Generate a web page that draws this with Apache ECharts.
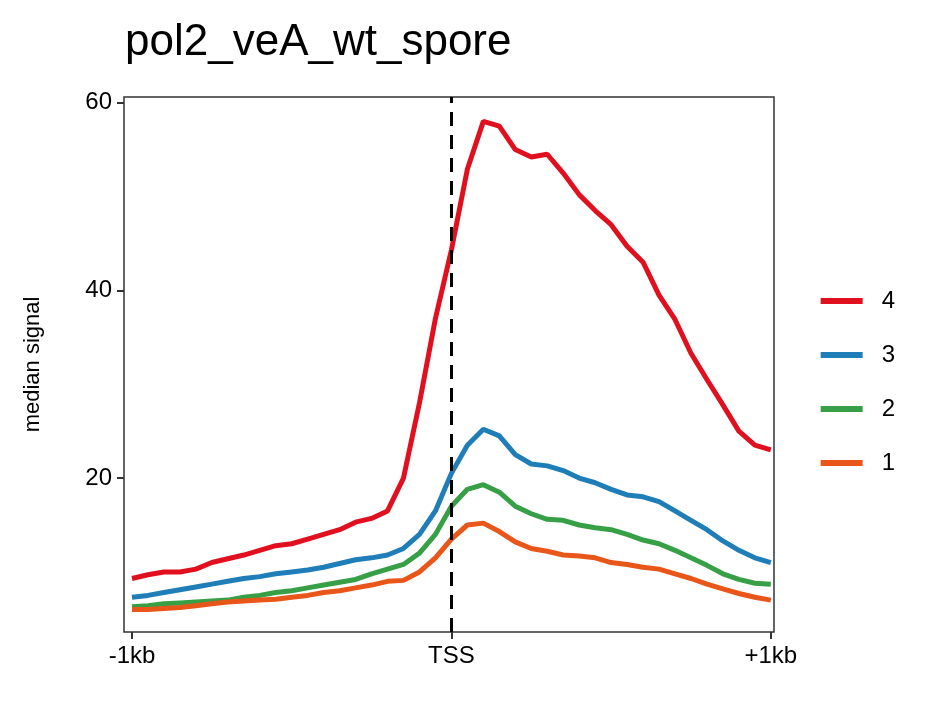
<!DOCTYPE html>
<html>
<head>
<meta charset="utf-8">
<script src="https://cdn.jsdelivr.net/npm/echarts@6/dist/echarts.min.js"></script>
<style>html,body{margin:0;padding:0;background:#fff}#main{width:944px;height:708px}</style>
</head>
<body>
<div id="main"></div>
<script>
// 位置 (bp relative to TSS)
var positions = [-1000,-950,-900,-850,-800,-750,-700,-650,-600,-550,-500,-450,-400,-350,-300,-250,-200,-150,-100,-50,
  0,50,100,150,200,250,300,350,400,450,500,550,600,650,700,750,800,850,900,950,1000];
var cluster4 = [9.3,9.7,10.0,10.0,10.3,11.0,11.4,11.8,12.3,12.8,13.0,13.5,14.0,14.5,15.3,15.7,16.5,20,28,37,
  44.3,52.9,58,57.5,55,54.2,54.5,52.5,50.2,48.5,47,44.7,43,39.5,36.9,33.3,30.5,27.8,25,23.5,23];
var cluster3 = [7.3,7.5,7.8,8.1,8.4,8.7,9.0,9.3,9.5,9.8,10.0,10.2,10.5,10.9,11.3,11.5,11.8,12.5,14,16.5,
  20.5,23.5,25.2,24.5,22.5,21.5,21.3,20.8,20,19.5,18.8,18.2,18,17.5,16.5,15.5,14.5,13.3,12.3,11.5,11];
var cluster2 = [6.3,6.4,6.6,6.7,6.8,6.9,7.0,7.3,7.5,7.8,8.0,8.3,8.6,8.9,9.2,9.8,10.3,10.8,12,14,
  17,18.8,19.3,18.5,17,16.2,15.6,15.5,15,14.7,14.5,14,13.4,13,12.3,11.5,10.7,9.8,9.2,8.8,8.7];
var cluster1 = [6.0,6.0,6.1,6.2,6.4,6.6,6.8,6.9,7.0,7.1,7.3,7.5,7.8,8.0,8.3,8.6,9.0,9.1,10,11.5,
  13.5,15,15.2,14.3,13.2,12.5,12.2,11.8,11.7,11.5,11,10.8,10.5,10.3,9.8,9.3,8.7,8.2,7.7,7.3,7.0];
var xTicks = [-1000, 0, 1000];
var xTickLabels = {'-1000': '-1kb', '0': 'TSS', '1000': '+1kb'};
var yTicks = [20, 40, 60];

function pairs(arr) {
  return positions.map(function (p, i) { return [p, arr[i]]; });
}

var myChart = echarts.init(document.getElementById('main'));
var font = 'Liberation Sans, Arial, sans-serif';

var option = {
  backgroundColor: '#fff',
  animation: false,
  title: {
    text: 'pol2_veA_wt_spore',
    left: 120, top: 16,
    textStyle: { fontFamily: font, fontSize: 44, fontWeight: 'normal', color: '#000' }
  },
  legend: {
    orient: 'vertical',
    right: 44, top: 284,
    itemGap: 30,
    itemWidth: 42, itemHeight: 6,
    icon: 'rect',
    textStyle: { fontFamily: font, fontSize: 24, color: '#000', padding: [0, 0, 0, 14] },
    data: ['4', '3', '2', '1']
  },
  grid: {
    left: 124, right: 170, top: 97, bottom: 76,
    show: true, borderColor: '#333', borderWidth: 1.5
  },
  xAxis: {
    type: 'value', min: -1025, max: 1010,
    axisLine: { show: false, onZero: false },
    splitLine: { show: false },
    axisTick: { show: true, customValues: xTicks, length: 7, lineStyle: { color: '#333', width: 2 } },
    axisLabel: {
      customValues: xTicks, fontFamily: font, fontSize: 24, color: '#000', margin: 12,
      formatter: function (v) { return xTickLabels[String(v)]; }
    }
  },
  yAxis: {
    type: 'value', min: 3.6, max: 60.6,
    name: 'median signal', nameLocation: 'middle', nameGap: 80,
    nameTextStyle: { fontFamily: font, fontSize: 22, color: '#000' },
    axisLine: { show: false, onZero: false },
    splitLine: { show: false },
    axisTick: { show: true, customValues: yTicks, length: 7, lineStyle: { color: '#333', width: 2 } },
    axisLabel: { customValues: yTicks, fontFamily: font, fontSize: 24, color: '#000', margin: 12 }
  },
  series: [
    { name: '4', type: 'line', data: pairs(cluster4), color: '#e0101f' },
    { name: '3', type: 'line', data: pairs(cluster3), color: '#1f7db8' },
    { name: '2', type: 'line', data: pairs(cluster2), color: '#37a047' },
    { name: '1', type: 'line', data: pairs(cluster1), color: '#e8561a',
      markLine: {
        silent: true, symbol: 'none', label: { show: false },
        lineStyle: { color: '#000', type: [14, 9], width: 3 },
        data: [{ xAxis: 0 }]
      }
    }
  ].map(function (s) {
    s.showSymbol = false; s.symbol = 'none'; s.lineStyle = { width: 5 }; s.z = 3;
    return s;
  })
};

myChart.setOption(option);
</script>
</body>
</html>
